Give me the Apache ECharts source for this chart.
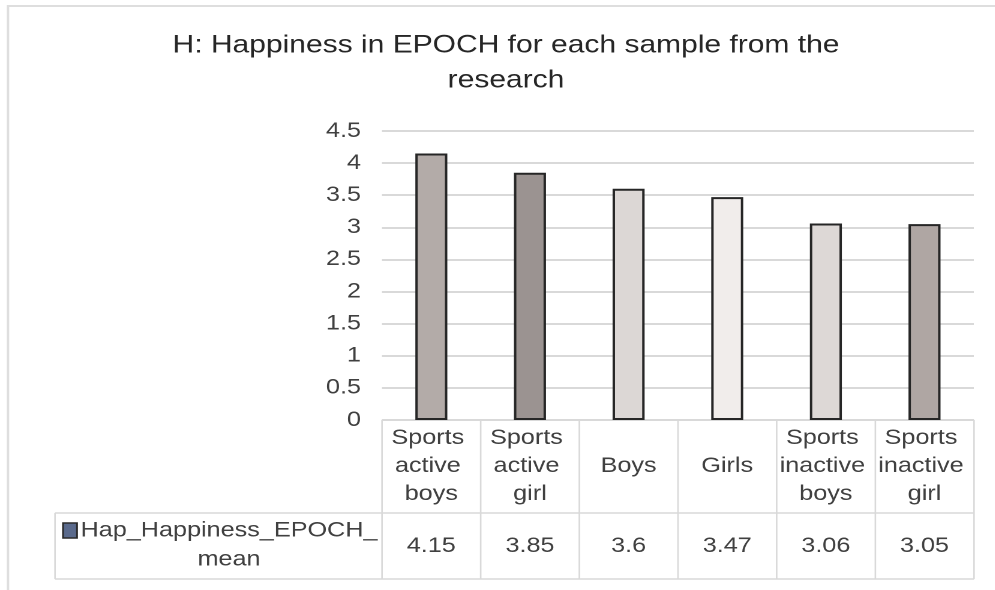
<!DOCTYPE html>
<html>
<head>
<meta charset="utf-8">
<script src="https://cdn.jsdelivr.net/npm/echarts@6/dist/echarts.min.js"></script>
<style>
  html, body { margin: 0; padding: 0; background: #ffffff; overflow: hidden; }
  #chart { height: 590px; transform-origin: 0 0; }
</style>
</head>
<body>
<div id="chart"></div>
<script>
// Sample groups and their mean EPOCH happiness scores
const categories = [
  'Sports active boys',
  'Sports active girl',
  'Boys',
  'Girls',
  'Sports inactive boys',
  'Sports inactive girl'
];
const meanValues = [4.15, 3.85, 3.6, 3.47, 3.06, 3.05];
const valueLabels = ['4.15', '3.85', '3.6', '3.47', '3.06', '3.05'];
const seriesName = 'Hap_Happiness_EPOCH_mean';
const titleText = 'H: Happiness in EPOCH for each sample from the\nresearch';
const barColors = ['#b3aba8', '#9b9391', '#dcd7d5', '#f1edeb', '#ddd8d6', '#afa6a3'];

// The chart is laid out in a narrower box and widened horizontally,
// giving the wide, spread-out lettering of the printed figure.
const SX = 1.2;
const W = 995, H = 590;
const px = x => x / SX;                // final horizontal pixel -> layout unit

const el = document.getElementById('chart');
el.style.width = px(W) + 'px';
el.style.transform = 'scaleX(' + SX + ')';

// Plot area / data table geometry (final pixels)
const FONT = '"Liberation Sans", Arial, sans-serif';
const TEXT = '#404040';
const plotLeft = 382, plotRight = 974, plotTop = 131, plotBottom = 420;
const headerBottom = 513, tableBottom = 579, legendLeft = 55;
const lineColor = '#d9d9d9';

const chart = echarts.init(el, null, { renderer: 'canvas', devicePixelRatio: 2 });

// Data table borders
const colW = (plotRight - plotLeft) / categories.length;
const tableGraphics = [];
function hLine(x1, x2, y) {
  tableGraphics.push({ type: 'line', silent: true,
    shape: { x1: px(x1), y1: y, x2: px(x2), y2: y },
    style: { stroke: lineColor, lineWidth: 1.5 } });
}
function vLine(x, y1, y2) {
  tableGraphics.push({ type: 'line', silent: true,
    shape: { x1: px(x), y1, x2: px(x), y2 },
    style: { stroke: lineColor, lineWidth: 1.3 } });
}
hLine(plotLeft, plotRight, plotBottom);
hLine(legendLeft, plotRight, headerBottom);
hLine(legendLeft, plotRight, tableBottom);
vLine(legendLeft, headerBottom, tableBottom);
for (let i = 0; i <= categories.length; i++) {
  vLine(plotLeft + i * colW, plotBottom, tableBottom);
}

chart.setOption({
  animation: false,
  backgroundColor: '#ffffff',
  grid: { left: px(plotLeft), right: px(W - plotRight), top: plotTop, bottom: H - plotBottom },
  xAxis: [
    {
      type: 'category',
      data: categories,
      axisLine: { show: false },
      axisTick: { show: false },
      axisLabel: {
        interval: 0,
        margin: 46,
        verticalAlign: 'middle',
        fontFamily: FONT,
        fontSize: 21,
        lineHeight: 28,
        color: TEXT,
        width: 78,
        overflow: 'break'
      }
    },
    {
      type: 'category',
      position: 'bottom',
      data: categories,
      axisLine: { show: false },
      axisTick: { show: false },
      axisLabel: {
        interval: 0,
        margin: 126,
        verticalAlign: 'middle',
        fontFamily: FONT,
        fontSize: 21,
        color: TEXT,
        formatter: (v, i) => valueLabels[i]
      }
    }
  ],
  yAxis: {
    type: 'value',
    min: 0,
    max: 4.5,
    interval: 0.5,
    axisLine: { show: false },
    axisTick: { show: false },
    axisLabel: { margin: px(21), fontFamily: FONT, fontSize: 21, color: TEXT },
    splitLine: { lineStyle: { color: lineColor, width: 2 } }
  },
  series: [{
    name: seriesName,
    type: 'bar',
    barWidth: px(32),
    data: meanValues.map((v, i) => ({
      value: v,
      itemStyle: { color: barColors[i] }
    })),
    itemStyle: { borderColor: '#262626', borderWidth: 2 }
  }],
  graphic: [
    // chart frame (top and left edges)
    { type: 'polyline', silent: true,
      shape: { points: [[px(8), H], [px(8), 6], [px(W), 6]] },
      style: { fill: 'none', stroke: '#dedede', lineWidth: 2 } },
    // title
    { type: 'text', silent: true, x: px(506), y: 63,
      style: {
        text: titleText, fill: '#262626', font: '25px ' + FONT,
        align: 'center', verticalAlign: 'middle', lineHeight: 35
      } },
    ...tableGraphics,
    // legend key in the data table
    { type: 'rect', silent: true, shape: { x: px(63), y: 523, width: px(14), height: 15 },
      style: { fill: '#5a6a8c', stroke: '#2a2a2a', lineWidth: 1.5 } },
    { type: 'text', silent: true, x: px(229), y: 545,
      style: {
        text: seriesName.replace('EPOCH_', 'EPOCH_\n'),
        fill: TEXT, font: '21px ' + FONT,
        align: 'center', verticalAlign: 'middle', lineHeight: 29
      } }
  ]
});
</script>
</body>
</html>
